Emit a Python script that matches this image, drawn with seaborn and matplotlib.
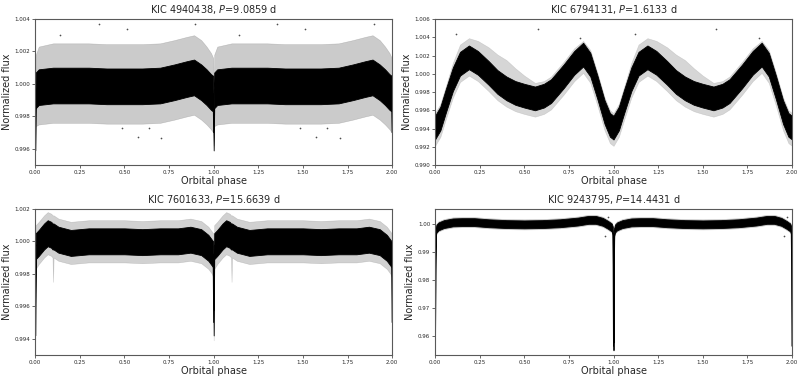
import numpy as np
import pandas as pd
import matplotlib
matplotlib.use("Agg")
import matplotlib.pyplot as plt
from matplotlib.ticker import MultipleLocator, FormatStrFormatter
import seaborn as sns

# Phase-folded light curves, one orbit each.
# flux = middle of the dense band, hi / lo = how far the sparse scatter
# reaches above / below it.

# KIC 4940438
ph_a = [0.0, 0.003, 0.02, 0.1, 0.2, 0.3, 0.4, 0.5, 0.6, 0.7, 0.78, 0.85, 0.89, 0.93, 0.96, 0.985, 0.997, 1.0]
flux_a = [0.9970, 0.9996, 0.9998, 0.9999, 0.9999, 0.9999, 0.99985, 0.99985, 0.99985, 0.9999, 1.0001, 1.0003,
          1.0004, 1.0001, 0.9998, 0.9995, 0.9994, 0.9970]
hi_a = [0.0020, 0.0022, 0.0025, 0.0026, 0.0026, 0.0026, 0.0026, 0.0026, 0.0026, 0.0026, 0.0026, 0.0026,
        0.0026, 0.0026, 0.0025, 0.0024, 0.0022, 0.0020]
lo_a = [0.0008, 0.0022, 0.0023, 0.0023, 0.0023, 0.0023, 0.0023, 0.0023, 0.0023, 0.0023, 0.0023, 0.0023,
        0.0023, 0.0023, 0.0023, 0.0023, 0.0024, 0.0008]
out_ph_a = [0.14, 0.355, 0.486, 0.514, 0.574, 0.636, 0.707, 0.897]
out_fx_a = [1.0030, 1.0037, 0.9973, 1.0034, 0.99675, 0.99727, 0.99665, 1.0037]

# KIC 6794131
ph_b = [0.0, 0.03, 0.06, 0.1, 0.14, 0.19, 0.24, 0.3, 0.35, 0.4, 0.45, 0.5, 0.56, 0.61, 0.65, 0.72, 0.78, 0.83,
        0.87, 0.91, 0.95, 0.98, 1.0]
flux_b = [0.9941, 0.9951, 0.9970, 0.9994, 1.0011, 1.0018, 1.0012, 1.0001, 0.9991, 0.9984, 0.9979, 0.9976,
          0.9973, 0.9976, 0.9981, 0.9997, 1.0012, 1.0021, 1.0010, 0.9985, 0.9958, 0.9944, 0.9941]
hi_b = [0.0016, 0.0016, 0.0016, 0.0018, 0.0021, 0.0021, 0.0024, 0.0028, 0.0030, 0.0031, 0.0027, 0.0022,
        0.0017, 0.0016, 0.0016, 0.0016, 0.0016, 0.0015, 0.0016, 0.0016, 0.0016, 0.0016, 0.0016]
lo_b = [0.0020] * 23
out_ph_b = [0.12, 0.576, 0.813]
out_fx_b = [1.0044, 1.0049, 1.0039]

# KIC 7601633
ph_c = [0.0, 0.003, 0.02, 0.05, 0.07, 0.09, 0.097, 0.1, 0.103, 0.13, 0.2, 0.3, 0.4, 0.5, 0.6, 0.7, 0.8, 0.87,
        0.93, 0.97, 0.99, 0.997, 1.0]
flux_c = [0.9950, 0.9997, 0.9999, 1.0003, 1.0005, 1.0004, 1.0003, 1.0003, 1.0003, 1.0001, 0.9999, 1.0000,
          1.0000, 1.0000, 0.99995, 1.0000, 1.0000, 1.0001, 0.99995, 0.9996, 0.9993, 0.9992, 0.9950]
hi_c = [0.0030, 0.0013, 0.0013, 0.0013, 0.0013, 0.0013, 0.0013, 0.0013, 0.0013, 0.0013, 0.0013, 0.0013,
        0.0013, 0.0013, 0.0013, 0.0013, 0.0013, 0.0013, 0.0013, 0.0013, 0.0013, 0.0013, 0.0030]
lo_c = [0.0011, 0.0014, 0.0013, 0.0013, 0.0013, 0.0013, 0.0013, 0.0028, 0.0013, 0.0013, 0.0013, 0.0013,
        0.0013, 0.0013, 0.0013, 0.0013, 0.0013, 0.0013, 0.0013, 0.0013, 0.0013, 0.0014, 0.0011]

# KIC 9243795
ph_d = [0.0, 0.002, 0.004, 0.008, 0.02, 0.05, 0.1, 0.15, 0.22, 0.3, 0.4, 0.5, 0.6, 0.7, 0.8, 0.86, 0.9,
        0.94, 0.97, 0.99, 0.996, 0.998, 1.0]
flux_d = [0.9565, 0.9850, 0.9970, 0.9982, 0.9990, 0.9998, 1.0004, 1.0005, 1.0005, 1.0001, 0.9998, 0.9997,
          0.9998, 1.0001, 1.0007, 1.0013, 1.0013, 1.0006, 0.9995, 0.9986, 0.9975, 0.9850, 0.9565]
hi_d = [0.0018] * 23
lo_d = [0.0018] * 23
out_ph_d = [0.955, 0.97]
out_fx_d = [0.9955, 1.0022]

titles = ["KIC 4940438, $P$=9.0859 d", "KIC 6794131, $P$=1.6133 d",
          "KIC 7601633, $P$=15.6639 d", "KIC 9243795, $P$=14.4431 d"]
core_hw = [0.0011, 0.0013, 0.0008, 0.0014]
fringe = ["0.55", "0.65", "0.6", "0.6"]
ylims = [(0.995, 1.004), (0.990, 1.006), (0.993, 1.002), (0.9534, 1.0052)]
ysteps = [0.002, 0.002, 0.002, 0.01]
yfmt = ["%.3f", "%.3f", "%.3f", "%.2f"]


def two_cycles(ph, *cols):
    """Repeat one orbit so the curve covers phase 0..2."""
    ph = np.asarray(ph)
    out = {"phase": np.concatenate([ph, ph + 1])}
    for i, c in enumerate(cols):
        out[f"c{i}"] = np.concatenate([c, c])
    return pd.DataFrame(out)


sns.set_style("ticks")
plt.rcParams["font.family"] = ["DejaVu Sans"]

fig, axes = plt.subplots(2, 2, figsize=(8, 3.8), dpi=100)
fig.subplots_adjust(left=0.044, right=0.99, top=0.95, bottom=0.066, wspace=0.12, hspace=0.30)

panels = [
    (ph_a, flux_a, hi_a, lo_a, out_ph_a, out_fx_a),
    (ph_b, flux_b, hi_b, lo_b, out_ph_b, out_fx_b),
    (ph_c, flux_c, hi_c, lo_c, [], []),
    (ph_d, flux_d, hi_d, lo_d, out_ph_d, out_fx_d),
]

for k, ax in enumerate(axes.flat):
    ph, fx, hi, lo, oph, ofx = panels[k]
    df = two_cycles(ph, np.array(fx), np.array(hi), np.array(lo))
    c, h, l = df["c0"], df["c1"], df["c2"]

    # sparse scatter around the band
    ax.fill_between(df["phase"], c - l, c + h, color=fringe[k], alpha=0.45, lw=0.4, edgecolor=fringe[k])
    # dense core of the band
    ax.fill_between(df["phase"], c - core_hw[k], c + core_hw[k], color="black", lw=0.6, edgecolor="black")
    sns.lineplot(x=df["phase"], y=c, ax=ax, color="black", lw=0.7)

    if len(oph):
        pts = two_cycles(oph, np.array(ofx))
        sns.scatterplot(x=pts["phase"], y=pts["c0"], ax=ax, s=1.5, color="0.3", linewidth=0)

    ax.set_xlim(0, 2)
    ax.set_ylim(*ylims[k])
    ax.xaxis.set_major_locator(MultipleLocator(0.25))
    ax.yaxis.set_major_locator(MultipleLocator(ysteps[k]))
    ax.xaxis.set_major_formatter(FormatStrFormatter("%.2f"))
    ax.yaxis.set_major_formatter(FormatStrFormatter(yfmt[k]))
    ax.tick_params(labelsize=4, length=2, width=0.6, pad=1.5, color="0.3")
    for sp in ax.spines.values():
        sp.set_color("0.35")
        sp.set_linewidth(0.8)
    ax.set_title(titles[k], fontsize=7, pad=4)
    ax.set_xlabel("Orbital phase", fontsize=7, labelpad=1)
    ax.set_ylabel("Normalized flux", fontsize=7, labelpad=2)

fig.savefig("out.png", dpi=100)
